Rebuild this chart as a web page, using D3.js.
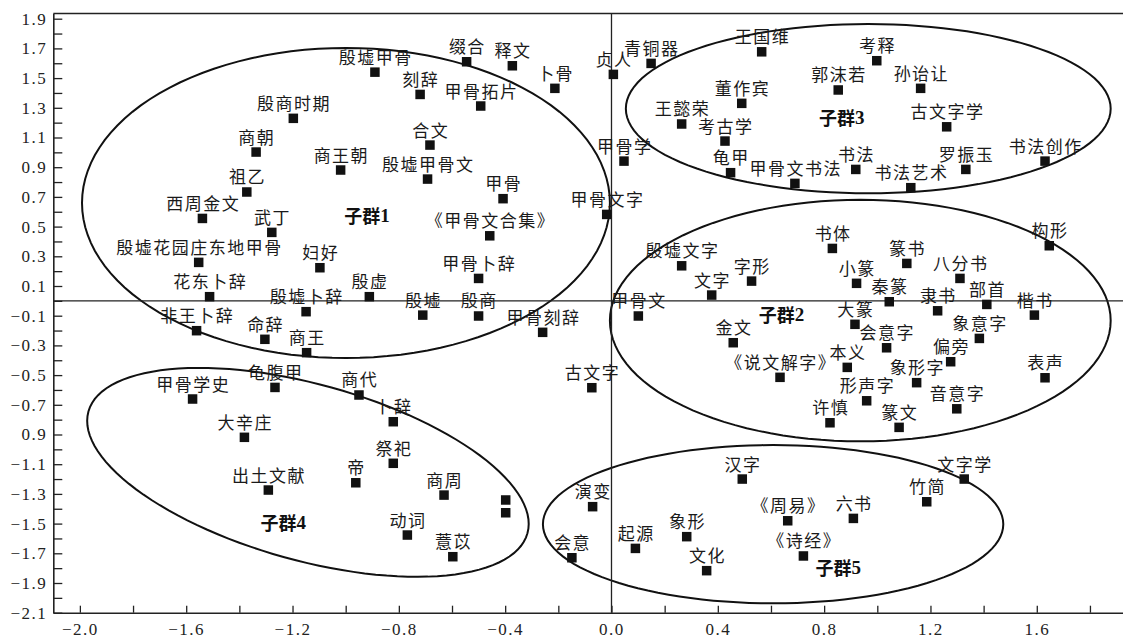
<!DOCTYPE html>
<html>
<head>
<meta charset="utf-8">
<script src="https://cdn.jsdelivr.net/npm/d3@7"></script>
<style>
  body { margin: 0; background: #fff; }
  svg.vis { display: block; background: #fff; }
</style>
</head>
<body>
<svg class="vis"></svg>
<script>

// terms and their coordinates on the two dimensions
const terms = [
    "殷墟甲骨", "缀合", "释文", "刻辞", "甲骨拓片", "卜骨", "殷商时期", "商朝", "商王朝", "合文",
    "殷墟甲骨文", "祖乙", "甲骨", "西周金文", "武丁", "《甲骨文合集》", "殷墟花园庄东地甲骨", "妇好", "甲骨卜辞", "花东卜辞",
    "殷虚", "殷墟卜辞", "殷墟", "殷商", "非王卜辞", "命辞", "商王", "甲骨刻辞", "甲骨文字",
    "贞人", "甲骨学", "古文字",
    "青铜器", "王国维", "考释", "郭沫若", "孙诒让", "董作宾", "王懿荣", "考古学", "古文字学", "龟甲",
    "甲骨文书法", "书法", "书法艺术", "罗振玉", "书法创作",
    "殷墟文字", "文字", "字形", "书体", "篆书", "八分书", "小篆", "秦篆", "隶书", "部首",
    "楷书", "构形", "甲骨文", "金文", "大篆", "会意字", "象意字", "《说文解字》", "本义", "偏旁",
    "象形字", "表声", "形声字", "音意字", "许慎", "篆文",
    "甲骨学史", "龟腹甲", "商代", "卜辞", "大辛庄", "祭祀", "帝", "出土文献", "商周", "",
    "", "动词", "薏苡",
    "演变", "会意", "起源", "象形", "文化", "汉字", "《周易》", "六书", "《诗经》", "竹简",
    "文字学"
];

const dim1 = [
    -0.89, -0.545, -0.373, -0.72, -0.492, -0.213, -1.197, -1.337, -1.019, -0.683,
    -0.692, -1.372, -0.408, -1.539, -1.278, -0.458, -1.553, -1.097, -0.5, -1.512,
    -0.911, -1.149, -0.71, -0.5, -1.561, -1.304, -1.147, -0.259, -0.018,
    0.007, 0.047, -0.074,
    0.149, 0.565, 0.998, 0.853, 1.163, 0.49, 0.264, 0.427, 1.261, 0.448,
    0.69, 0.919, 1.126, 1.333, 1.631,
    0.264, 0.377, 0.527, 0.831, 1.111, 1.311, 0.922, 1.045, 1.227, 1.412,
    1.591, 1.647, 0.101, 0.458, 0.916, 1.035, 1.384, 0.634, 0.887, 1.276,
    1.148, 1.631, 0.96, 1.299, 0.822, 1.082,
    -1.576, -1.266, -0.95, -0.821, -1.381, -0.821, -0.962, -1.291, -0.63, -0.398,
    -0.398, -0.768, -0.597,
    -0.071, -0.149, 0.09, 0.283, 0.358, 0.492, 0.663, 0.91, 0.722, 1.186,
    1.327
];

const dim2 = [
    1.54, 1.61, 1.583, 1.39, 1.312, 1.431, 1.229, 1.002, 0.881, 1.049,
    0.82, 0.733, 0.688, 0.555, 0.461, 0.438, 0.259, 0.223, 0.151, 0.028,
    0.028, -0.073, -0.096, -0.102, -0.201, -0.259, -0.349, -0.212, 0.582,
    1.525, 0.941, -0.585,
    1.599, 1.677, 1.617, 1.42, 1.431, 1.33, 1.191, 1.076, 1.172, 0.863,
    0.791, 0.885, 0.762, 0.885, 0.941,
    0.236, 0.039, 0.133, 0.353, 0.252, 0.151, 0.118, -0.006, -0.067, -0.024,
    -0.096, 0.371, -0.102, -0.282, -0.158, -0.316, -0.253, -0.515, -0.448, -0.41,
    -0.551, -0.518, -0.673, -0.727, -0.821, -0.852,
    -0.661, -0.583, -0.634, -0.814, -0.919, -1.094, -1.225, -1.274, -1.308, -1.341,
    -1.427, -1.577, -1.723,
    -1.386, -1.73, -1.667, -1.588, -1.817, -1.2, -1.481, -1.465, -1.718, -1.353,
    -1.2
];

// sub-groups: label anchor and enclosing ellipse (data units, tilt in degrees)
const clusterNames  = ["子群1", "子群2", "子群3", "子群4", "子群5"];
const clusterLabelX = [-0.92, 0.64, 0.866, -1.235, 0.853];
const clusterLabelY = [0.578, -0.089, 1.24, -1.488, -1.791];
const ellipseCx   = [-0.999, 0.936, 0.966, -1.142, 0.608];
const ellipseCy   = [0.659, -0.133, 1.294, -1.155, -1.504];
const ellipseRx   = [0.993, 0.942, 0.912, 0.857, 0.866];
const ellipseRy   = [1.044, 0.813, 0.570, 0.593, 0.533];
const ellipseTilt = [0, 0, 0, 15.5, 0];

// axis ticks
const xLabelValues = [-2.0, -1.6, -1.2, -0.8, -0.4, 0.0, 0.4, 0.8, 1.2, 1.6];
const xLabelTexts  = ["−2.0", "−1.6", "−1.2", "−0.8", "−0.4", "0.0", "0.4", "0.8", "1.2", "1.6"];
const xMinorValues = [-1.8, -1.4, -1.0, -0.6, -0.2, 0.2, 0.6, 1.0, 1.4, 1.8];

const yLabelValues = [1.9, 1.7, 1.5, 1.3, 1.1, 0.9, 0.7, 0.5, 0.3, 0.1,
                      -0.1, -0.3, -0.5, -0.7, -0.9, -1.1, -1.3, -1.5, -1.7, -1.9, -2.1];
const yLabelTexts  = ["1.9", "1.7", "1.5", "1.3", "1.1", "0.9", "0.7", "0.5", "0.3", "0.1",
                      "−0.1", "−0.3", "−0.5", "−0.7", "0.9", "−1.1", "−1.3", "−1.5", "−1.7", "−1.9", "−2.1"];
const yMinorValues = [1.8, 1.6, 1.4, 1.2, 1.0, 0.8, 0.6, 0.4, 0.2, 0.0,
                      -0.2, -0.4, -0.6, -0.8, -1.0, -1.2, -1.4, -1.6, -1.8, -2.0];


const vis = {

    refs: {
        svg: "svg.vis"
    },

    sels: {
        svg: null
    },

    dims: {
        w: 1123,
        h: 639,
        left: 53.3,
        right: 1124.5,
        top: 13.5,
        bottom: 612.7
    },

    scales: {
        x: null,
        y: null
    },

    f: {

        generates_refs: function() {
            vis.sels.svg = d3.select(vis.refs.svg)
                .attr("width", vis.dims.w)
                .attr("height", vis.dims.h);
        },

        set_scales: function() {
            vis.scales.x = d3.scaleLinear()
                .domain([-2.1, 1.93])
                .range([vis.dims.left, vis.dims.right]);

            vis.scales.y = d3.scaleLinear()
                .domain([-2.1, 1.935])
                .range([vis.dims.bottom, vis.dims.top]);
        }

    },

    draw: {

        axes: function() {

            const x = vis.scales.x, y = vis.scales.y, svg = vis.sels.svg;
            const fmtX = d => { const i = xLabelValues.findIndex(v => Math.abs(v - d) < 1e-6); return i < 0 ? "" : xLabelTexts[i]; };
            const fmtY = d => { const i = yLabelValues.findIndex(v => Math.abs(v - d) < 1e-6); return i < 0 ? "" : yLabelTexts[i]; };

            const gx = svg.append("g")
                .attr("transform", `translate(0,${vis.dims.bottom})`)
                .call(d3.axisBottom(x)
                    .tickValues(xLabelValues.concat(xMinorValues))
                    .tickSizeInner(-7)
                    .tickSizeOuter(0)
                    .tickPadding(10)
                    .tickFormat(fmtX));

            const gy = svg.append("g")
                .attr("transform", `translate(${vis.dims.left},0)`)
                .call(d3.axisLeft(y)
                    .tickValues(yLabelValues.concat(yMinorValues))
                    .tickSizeInner(-9)
                    .tickSizeOuter(0)
                    .tickPadding(6)
                    .tickFormat(fmtY));

            [gx, gy].forEach(g => {
                g.attr("font-family", "'Liberation Serif', 'DejaVu Serif', serif");
                g.select(".domain").attr("stroke", "#222").attr("stroke-width", 1.6);
                g.selectAll(".tick line").attr("stroke", "#222").attr("stroke-width", 1.3);
                g.selectAll(".tick text")
                    .attr("fill", "#222")
                    .style("font-family", "'Liberation Serif', 'DejaVu Serif', serif")
                    .style("font-size", "17px")
                    .style("letter-spacing", "1.5px");
            });

            // top border
            svg.append("line")
                .attr("x1", vis.dims.left).attr("x2", vis.dims.w)
                .attr("y1", vis.dims.top).attr("y2", vis.dims.top)
                .attr("stroke", "#222").attr("stroke-width", 1.6);

            // zero lines
            svg.append("line")
                .attr("x1", vis.dims.left).attr("x2", vis.dims.w)
                .attr("y1", y(0)).attr("y2", y(0))
                .attr("stroke", "#222").attr("stroke-width", 1.3);

            svg.append("line")
                .attr("x1", x(0)).attr("x2", x(0))
                .attr("y1", vis.dims.top).attr("y2", vis.dims.bottom)
                .attr("stroke", "#222").attr("stroke-width", 1.3);
        },

        ellipses: function() {

            const x = vis.scales.x, y = vis.scales.y;
            const kx = x(1) - x(0), ky = y(0) - y(1);
            const steps = d3.range(0, 121).map(i => i / 120 * 2 * Math.PI);

            const line = d3.line().curve(d3.curveLinearClosed);

            const data = clusterNames.map((n, i) => {
                const cx = x(ellipseCx[i]), cy = y(ellipseCy[i]);
                const a = ellipseRx[i] * kx, b = ellipseRy[i] * ky;
                const th = ellipseTilt[i] * Math.PI / 180;
                return steps.map(t => [
                    cx + a * Math.cos(t) * Math.cos(th) - b * Math.sin(t) * Math.sin(th),
                    cy + a * Math.cos(t) * Math.sin(th) + b * Math.sin(t) * Math.cos(th)
                ]);
            });

            vis.sels.svg.append("g")
                .selectAll("path")
                .data(data)
                .join("path")
                .attr("d", line)
                .attr("fill", "none")
                .attr("stroke", "#111")
                .attr("stroke-width", 2);
        },

        points: function() {

            const x = vis.scales.x, y = vis.scales.y;
            const pts = terms.map((t, i) => ({ name: t, x: dim1[i], y: dim2[i] }));
            const s = 9.5;

            vis.sels.svg.append("g")
                .selectAll("rect")
                .data(pts)
                .join("rect")
                .attr("x", d => x(d.x) - s / 2)
                .attr("y", d => y(d.y) - s / 2)
                .attr("width", s)
                .attr("height", s)
                .attr("fill", "#111");

            vis.sels.svg.append("g")
                .style("font-family", "'Noto Sans CJK SC', 'Noto Sans', sans-serif")
                .style("font-size", "17px")
                .style("letter-spacing", "1.5px")
                .attr("fill", "#1a1a1a")
                .attr("text-anchor", "middle")
                .selectAll("text")
                .data(pts.filter(d => d.name !== ""))
                .join("text")
                .attr("x", d => x(d.x) + 0.75)
                .attr("y", d => y(d.y) - 8.5)
                .text(d => d.name);
        },

        cluster_labels: function() {

            const x = vis.scales.x, y = vis.scales.y;

            const lab = vis.sels.svg.append("g")
                .selectAll("text")
                .data(clusterNames)
                .join("text")
                .attr("x", (d, i) => x(clusterLabelX[i]))
                .attr("y", (d, i) => y(clusterLabelY[i]))
                .attr("dominant-baseline", "central")
                .attr("text-anchor", "middle")
                .attr("fill", "#111")
                .style("font-weight", "bold");

            lab.append("tspan")
                .style("font-family", "'Noto Sans CJK SC', sans-serif")
                .style("font-size", "18px")
                .text(d => d.slice(0, 2));

            lab.append("tspan")
                .style("font-family", "'Liberation Serif', serif")
                .style("font-size", "19px")
                .text(d => d.slice(2));
        }

    },

    control: {

        init: function() {
            vis.f.generates_refs();
            vis.f.set_scales();
            vis.draw.ellipses();
            vis.draw.axes();
            vis.draw.points();
            vis.draw.cluster_labels();
        }

    }

};

vis.control.init();
</script>
</body>
</html>
